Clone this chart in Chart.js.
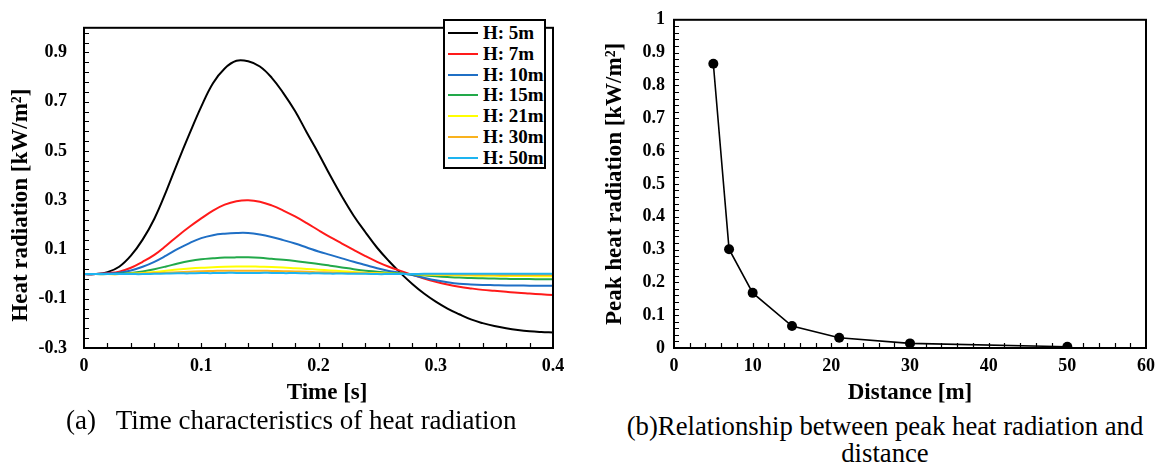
<!DOCTYPE html>
<html>
<head>
<meta charset="utf-8">
<script src="https://cdn.jsdelivr.net/npm/chart.js@4.4.1/dist/chart.umd.min.js"></script>
<style>
  body { margin: 0; background: #fff; width: 1163px; height: 470px; position: relative; overflow: hidden; }
  canvas { position: absolute; top: 0; }
  #leftChart { left: 0; }
  #rightChart { left: 580px; }
  .caption { position: absolute; font-family: "Liberation Serif", "Times New Roman", serif; font-size: 27px; color: #000; white-space: pre; }
  #legend { position: absolute; left: 443px; top: 19px; width: 99px; height: 146px; border: 2px solid #000; background: #fff;
            font-family: "Liberation Serif", "Times New Roman", serif; font-weight: bold; font-size: 19px; }
  #legend .row { position: absolute; left: 0; height: 20px; line-height: 20px; white-space: nowrap; }
  #legend .swatch { position: absolute; left: 3px; top: 9px; width: 30px; height: 2px; }
  #legend .lbl { position: absolute; left: 38px; top: 0; }
</style>
</head>
<body>
<canvas id="leftChart" width="575" height="410"></canvas>
<canvas id="rightChart" width="583" height="410"></canvas>
<div id="legend"></div>
<div class="caption" style="left:66px; top:405px;">(a)   Time characteristics of heat radiation</div>
<div class="caption" style="left:600px; top:413px; width:570px; text-align:center; line-height:27px; white-space:normal; font-size:26.7px;">(b)Relationship between peak heat radiation and<br>distance</div>
<script>
// time axis [s]
const times = [0, 0.01, 0.02, 0.03, 0.04, 0.05, 0.06, 0.07, 0.08, 0.09,
  0.10, 0.11, 0.12, 0.13, 0.14, 0.15, 0.16, 0.17, 0.18, 0.19,
  0.20, 0.21, 0.22, 0.23, 0.24, 0.25, 0.26, 0.27, 0.28, 0.29,
  0.30, 0.31, 0.32, 0.33, 0.34, 0.35, 0.36, 0.37, 0.38, 0.39, 0.40];

// heat radiation [kW/m2] for each height
const h5 = [0, 0, 0.008, 0.03, 0.075, 0.14, 0.225, 0.335, 0.455, 0.57,
  0.68, 0.775, 0.835, 0.866, 0.864, 0.843, 0.798, 0.735, 0.662, 0.575,
  0.49, 0.40, 0.315, 0.237, 0.17, 0.107, 0.053, 0.004, -0.04, -0.079,
  -0.112, -0.14, -0.163, -0.184, -0.199, -0.211, -0.22, -0.227, -0.232, -0.235, -0.237];
const h7 = [0, 0, 0.004, 0.01, 0.026, 0.05, 0.078, 0.115, 0.155, 0.192,
  0.226, 0.258, 0.282, 0.296, 0.30, 0.294, 0.279, 0.258, 0.234, 0.207,
  0.178, 0.15, 0.124, 0.098, 0.073, 0.05, 0.03, 0.013, -0.003, -0.018,
  -0.031, -0.042, -0.051, -0.058, -0.064, -0.068, -0.072, -0.076, -0.079, -0.082, -0.085];
const h10 = [0, 0, 0.002, 0.006, 0.015, 0.03, 0.05, 0.075, 0.102, 0.126,
  0.146, 0.158, 0.164, 0.167, 0.167, 0.161, 0.151, 0.138, 0.124, 0.108,
  0.092, 0.078, 0.064, 0.05, 0.037, 0.024, 0.013, 0.005, -0.004, -0.015,
  -0.025, -0.033, -0.039, -0.042, -0.044, -0.045, -0.046, -0.046, -0.047, -0.047, -0.047];
const h15 = [0, 0, 0, 0.002, 0.005, 0.011, 0.02, 0.031, 0.043, 0.053,
  0.06, 0.064, 0.067, 0.068, 0.068, 0.066, 0.062, 0.058, 0.053, 0.047,
  0.041, 0.034, 0.027, 0.02, 0.014, 0.01, 0.006, 0.002, -0.001, -0.005,
  -0.009, -0.012, -0.014, -0.016, -0.017, -0.018, -0.019, -0.02, -0.02, -0.021, -0.021];
const h21 = [0, 0, 0, 0, 0.002, 0.005, 0.009, 0.014, 0.019, 0.023,
  0.026, 0.028, 0.03, 0.031, 0.031, 0.03, 0.029, 0.027, 0.024, 0.021,
  0.018, 0.015, 0.012, 0.009, 0.006, 0.004, 0.002, 0.001, 0, -0.002,
  -0.003, -0.004, -0.005, -0.006, -0.007, -0.007, -0.008, -0.008, -0.008, -0.009, -0.009];
const h30 = [0, 0, 0, 0, 0.001, 0.002, 0.004, 0.006, 0.008, 0.01,
  0.012, 0.013, 0.014, 0.014, 0.014, 0.014, 0.013, 0.012, 0.011, 0.01,
  0.008, 0.007, 0.005, 0.004, 0.003, 0.002, 0.001, 0, 0, -0.001,
  -0.001, -0.002, -0.002, -0.003, -0.003, -0.003, -0.004, -0.004, -0.004, -0.004, -0.004];
const h50 = [0, 0, 0, 0, 0, 0, 0.001, 0.002, 0.003, 0.003,
  0.004, 0.004, 0.005, 0.005, 0.005, 0.005, 0.005, 0.004, 0.004, 0.003,
  0.003, 0.002, 0.002, 0.001, 0.001, 0, 0, 0, 0, 0.001,
  0.001, 0.001, 0.001, 0.001, 0.001, 0.001, 0.001, 0.001, 0.001, 0.001, 0.001];

const seriesNames = ["H: 5m", "H: 7m", "H: 10m", "H: 15m", "H: 21m", "H: 30m", "H: 50m"];
const seriesData = [h5, h7, h10, h15, h21, h30, h50];
const seriesColors = ["#000000", "#ff1a1a", "#1f6fc5", "#22a94a", "#ffff00", "#f9b21e", "#1db4f0"];

// peak values vs distance
const distances = [5, 7, 10, 15, 21, 30, 50];
const peaks = [0.866, 0.301, 0.168, 0.067, 0.031, 0.014, 0.004];

// tick labels
const timeTicks = [0, 0.1, 0.2, 0.3, 0.4];
const timeLabels = ["0", "0.1", "0.2", "0.3", "0.4"];
const radTicks = [-0.3, -0.1, 0.1, 0.3, 0.5, 0.7, 0.9];
const radLabels = ["-0.3", "-0.1", "0.1", "0.3", "0.5", "0.7", "0.9"];
const distTicks = [0, 10, 20, 30, 40, 50, 60];
const distLabels = ["0", "10", "20", "30", "40", "50", "60"];
const peakTicks = [0, 0.1, 0.2, 0.3, 0.4, 0.5, 0.6, 0.7, 0.8, 0.9, 1];
const peakLabels = ["0", "0.1", "0.2", "0.3", "0.4", "0.5", "0.6", "0.7", "0.8", "0.9", "1"];

const SERIF = '"Liberation Serif", "Times New Roman", serif';

// box frame + small inward ticks
const frameTicks = {
  id: "frameTicks",
  afterDraw(chart, args, opts) {
    const { ctx, chartArea: a, scales: { x, y } } = chart;
    ctx.save();
    ctx.strokeStyle = "#000";
    ctx.lineWidth = 1.2;
    ctx.beginPath();
    const nx = Math.round((x.max - x.min) / opts.xStep);
    for (let i = 1; i < nx; i++) {
      const px = Math.round(x.getPixelForValue(x.min + i * opts.xStep)) + 0.5;
      ctx.moveTo(px, a.bottom);
      ctx.lineTo(px, a.bottom - opts.len);
    }
    const ny = Math.round((y.max - y.min) / opts.yStep);
    for (let i = 1; i < ny; i++) {
      const py = Math.round(y.getPixelForValue(y.min + i * opts.yStep)) + 0.5;
      ctx.moveTo(a.left, py);
      ctx.lineTo(a.left + opts.len, py);
    }
    ctx.stroke();
    ctx.lineWidth = 2;
    ctx.strokeRect(a.left, a.top, a.right - a.left, a.bottom - a.top);
    ctx.restore();
  }
};

function fixedTicks(values) {
  return (scale) => { scale.ticks = values.map(v => ({ value: v })); };
}

const tickFont = { family: SERIF, size: 18, weight: "bold" };
const titleFont = { family: SERIF, size: 23, weight: "bold" };

function drawCharts() {
  // LEFT: time characteristics
  new Chart(document.getElementById("leftChart"), {
    type: "line",
    data: {
      datasets: seriesData.map((vals, i) => ({
        label: seriesNames[i],
        data: vals.map((v, k) => ({ x: times[k], y: v })),
        borderColor: seriesColors[i],
        borderWidth: 2,
        pointRadius: 0,
        tension: 0.4,
        order: seriesData.length - 1 - i
      }))
    },
    options: {
      responsive: false,
      animation: false,
      layout: { padding: { top: 16, right: 22, left: 0, bottom: 0 } },
      plugins: {
        legend: { display: false },
        tooltip: { enabled: false },
        frameTicks: { xStep: 0.02, yStep: 0.04, len: 5 }
      },
      scales: {
        x: {
          type: "linear", min: 0, max: 0.4,
          afterBuildTicks: fixedTicks(timeTicks),
          afterFit: (s) => { s.height = 62; },
          grid: { display: false, drawTicks: false },
          border: { display: false },
          ticks: { color: "#000", font: tickFont, padding: 8, maxRotation: 0,
                   callback: (v, i) => timeLabels[i] },
          title: { display: true, text: "   Time [s]", color: "#000", font: titleFont, padding: { top: 0, bottom: 3 } }
        },
        y: {
          type: "linear", min: -0.3, max: 1.0,
          afterBuildTicks: fixedTicks(radTicks),
          afterFit: (s) => { s.width = 84; },
          grid: { display: false, drawTicks: false },
          border: { display: false },
          ticks: { color: "#000", font: tickFont, padding: 17,
                   callback: (v, i) => radLabels[i] },
          title: { display: true, text: "Heat radiation [kW/m²]      ", color: "#000", font: titleFont, padding: { top: 7, bottom: 0 } }
        }
      }
    },
    plugins: [frameTicks]
  });

  // legend for the left chart, built from the series
  const legendEl = document.getElementById("legend");
  seriesNames.forEach((name, i) => {
    const row = document.createElement("div");
    row.className = "row";
    row.style.top = (2 + i * 20.8) + "px";
    row.innerHTML = '<span class="swatch" style="background:' + seriesColors[i] + '"></span><span class="lbl">' + name + '</span>';
    legendEl.appendChild(row);
  });

  // RIGHT: peak vs distance
  new Chart(document.getElementById("rightChart"), {
    type: "line",
    data: {
      datasets: [{
        data: distances.map((d, i) => ({ x: d, y: peaks[i] })),
        borderColor: "#000",
        backgroundColor: "#000",
        borderWidth: 1.6,
        pointRadius: 5,
        pointBackgroundColor: "#000",
        pointBorderWidth: 0,
        tension: 0
      }]
    },
    options: {
      responsive: false,
      animation: false,
      layout: { padding: { top: 13, right: 15, left: 0, bottom: 0 } },
      plugins: {
        legend: { display: false },
        tooltip: { enabled: false },
        frameTicks: { xStep: 2, yStep: 0.02, len: 5 }
      },
      scales: {
        x: {
          type: "linear", min: 0, max: 60,
          afterBuildTicks: fixedTicks(distTicks),
          afterFit: (s) => { s.height = 62; },
          grid: { display: false, drawTicks: false },
          border: { display: false },
          ticks: { color: "#000", font: tickFont, padding: 8, maxRotation: 0,
                   callback: (v, i) => distLabels[i] },
          title: { display: true, text: "Distance [m]", color: "#000", font: titleFont, padding: { top: 0, bottom: 3 } }
        },
        y: {
          type: "linear", min: 0, max: 1,
          afterBuildTicks: fixedTicks(peakTicks),
          afterFit: (s) => { s.width = 94; },
          grid: { display: false, drawTicks: false },
          border: { display: false },
          ticks: { color: "#000", font: tickFont, padding: 9,
                   callback: (v, i) => peakLabels[i] },
          title: { display: true, text: "Peak heat radiation [kW/m²]", color: "#000", font: titleFont, padding: { top: 21, bottom: 0 } }
        }
      }
    },
    plugins: [frameTicks]
  });
}

// make sure the serif faces are ready before the canvas text is drawn
Promise.all([
  document.fonts.load('bold 18px "Liberation Serif"'),
  document.fonts.load('bold 23px "Liberation Serif"')
]).then(drawCharts, drawCharts);
</script>
</body>
</html>
